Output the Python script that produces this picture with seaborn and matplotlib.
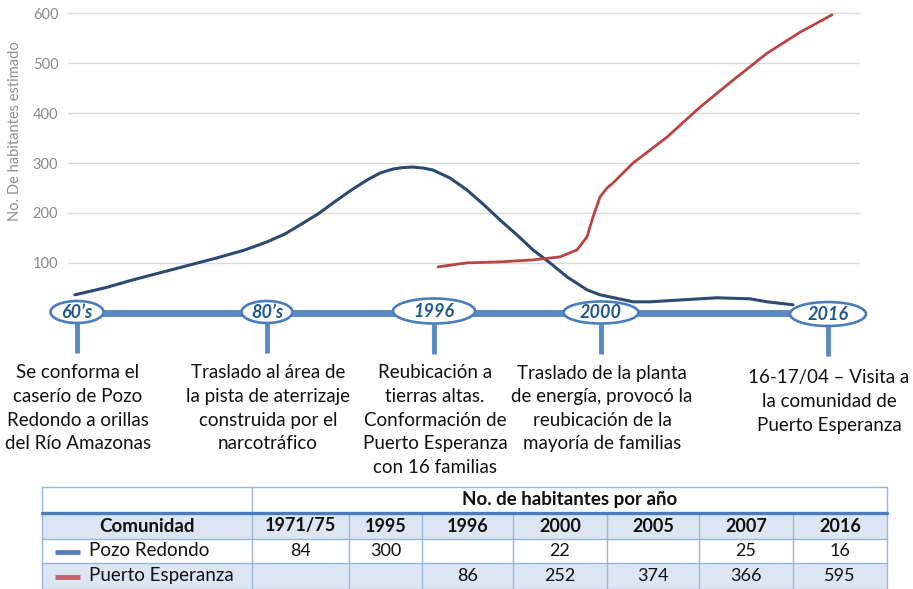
import numpy as np
import pandas as pd
import matplotlib
matplotlib.use("Agg")
import matplotlib.pyplot as plt
from matplotlib.patches import Ellipse, Rectangle
import seaborn as sns

# ─── Data ─────────────────────────────────────────────────────────────────────
y_ticks = [100, 200, 300, 400, 500, 600]

# estimated population curves, x = position along the timeline drawing
pozo_x = [75, 105, 133, 175, 217, 245, 267, 285, 300, 318, 333, 350, 367, 380,
          393, 403, 413, 423, 433, 450, 467, 483, 500, 517, 533, 550, 567, 587,
          600, 633, 650, 683, 717, 750, 767, 793]
pozo_y = [36, 50, 66, 88, 110, 126, 142, 158, 176, 198, 220, 244, 266, 280,
          288, 291, 292, 290, 286, 270, 246, 218, 186, 156, 126, 100, 72, 46,
          36, 22, 22, 26, 30, 28, 22, 16]

puerto_x = [438, 467, 500, 533, 560, 577, 587, 593, 600, 607, 613, 633, 667,
            700, 733, 767, 800, 832]
puerto_y = [92, 100, 102, 106, 112, 126, 152, 192, 232, 250, 260, 300, 352,
            412, 466, 520, 562, 597]

event_labels = ["60\u2019s", "80\u2019s", "1996", "2000", "2016"]
event_x = [77, 267, 434, 601, 828]
event_texts = [
    ["Se conforma el", "caserío de Pozo", "Redondo a orillas", "del Río Amazonas"],
    ["Traslado al área de", "la pista de aterrizaje", "construida por el", "narcotráfico"],
    ["Reubicación a", "tierras altas.", "Conformación de", "Puerto Esperanza", "con 16 familias"],
    ["Traslado de la planta", "de energía, provocó la", "reubicación de la", "mayoría de familias"],
    ["16-17/04 \u2013 Visita a", "la comunidad de", "Puerto Esperanza"],
]

table_title = "No. de habitantes por año"
table_years = ["1971/75", "1995", "1996", "2000", "2005", "2007", "2016"]
communities = ["Pozo Redondo", "Puerto Esperanza"]
pozo_vals = ["84", "300", "", "22", "", "25", "16"]
puerto_vals = ["", "", "86", "252", "374", "366", "595"]

# ─── Style ────────────────────────────────────────────────────────────────────
sns.set_theme(style="white")
plt.rcParams["font.family"] = ["Lato", "DejaVu Sans"]

navy = "#2c4a72"
red = "#b84444"
tl_blue = "#5b89c4"
edge_blue = "#4a7dbb"
label_blue = "#1f5a8a"
cell_blue = "#dce6f2"
line_blue = "#9ab6da"

W, H = 913, 589
fig = plt.figure(figsize=(W / 100, H / 100), dpi=100)

# ─── Chart ────────────────────────────────────────────────────────────────────
ax = fig.add_axes([68 / W, 1 - 330 / H, (860 - 68) / W, 330 / H])
sns.lineplot(x=pozo_x, y=pozo_y, ax=ax, color=navy, linewidth=2.2, sort=False)
sns.lineplot(x=puerto_x, y=puerto_y, ax=ax, color=red, linewidth=2.0, sort=False)
ax.set_xlim(68, 860)
ax.set_ylim(-34.5, 626.7)
ax.set_yticks(y_ticks)
ax.set_xticks([])
ax.grid(axis="y", color="#dadada", linewidth=1)
ax.set_axisbelow(True)
for s in ax.spines.values():
    s.set_visible(False)
ax.tick_params(axis="y", length=0, pad=7, labelcolor="#8a8a8a", labelsize=10.5)
ax.set_ylabel("No. De habitantes estimado", color="#8f8f8f", fontsize=10.5)
ax.yaxis.set_label_coords(-46 / 792, 1 - 131 / 330)
ax.patch.set_alpha(0)

# ─── Timeline + table overlay ─────────────────────────────────────────────────
ov = fig.add_axes([0, 0, 1, 1])
ov.set_xlim(0, W)
ov.set_ylim(H, 0)
ov.axis("off")
ov.patch.set_alpha(0)

ov.plot([event_x[0], event_x[-1]], [313, 313], color=tl_blue, linewidth=5,
        solid_capstyle="butt", zorder=2)
ell_w = [53, 51, 82, 75, 76]
ell_h = [22, 22, 25, 22, 24]
ell_y = [312, 312, 311, 312.5, 314]
for x, lab, w, h, yc, lines in zip(event_x, event_labels, ell_w, ell_h, ell_y, event_texts):
    ov.plot([x, x], [yc + h / 2, yc + h / 2 + 30], color=tl_blue, linewidth=3.5,
            solid_capstyle="butt", zorder=2)
    ov.add_patch(Ellipse((x, yc), w, h, facecolor="white", edgecolor=edge_blue,
                         linewidth=1.9, zorder=3))
    ov.text(x, yc + 0.5, lab, ha="center", va="center", fontsize=13,
            fontstyle="italic", fontweight="bold", color=label_blue, zorder=4)
    y0 = 373 if lab != "2016" else 378
    for i, line in enumerate(lines):
        ov.text(x + 1, y0 + i * 23.6, line, ha="center", va="center",
                fontsize=13.5, color="#111111")

# table
col_edges = [42, 252, 349, 422, 513, 607, 699, 793, 887]
row_edges = [487, 513, 539, 563, 589]
left, right = col_edges[0], col_edges[-1]
for r in (1, 3):
    ov.add_patch(Rectangle((left, row_edges[r]), right - left,
                           row_edges[r + 1] - row_edges[r],
                           facecolor=cell_blue, edgecolor="none", zorder=1))
for yy in row_edges:
    ov.plot([left, right], [yy, yy], color=line_blue, linewidth=1, zorder=2)
ov.plot([left, right], [513, 513], color=edge_blue, linewidth=2.4, zorder=3)
for i, xx in enumerate(col_edges):
    top = row_edges[0] if i in (0, 1, len(col_edges) - 1) else row_edges[1]
    ov.plot([xx, xx], [top, row_edges[-1]], color=line_blue, linewidth=1, zorder=2)

def cy(r):
    return (row_edges[r] + row_edges[r + 1]) / 2

ov.text((col_edges[1] + right) / 2, cy(0), table_title, ha="center", va="center",
        fontsize=13.5, fontweight="bold", color="#111111")
ov.text((col_edges[0] + col_edges[1]) / 2, cy(1), "Comunidad", ha="center",
        va="center", fontsize=13.5, fontweight="bold", color="#111111")
for j, yr in enumerate(table_years):
    ov.text((col_edges[j + 1] + col_edges[j + 2]) / 2, cy(1), yr, ha="center",
            va="center", fontsize=13, fontweight="bold", color="#111111")
for r, (name, vals, c) in enumerate(zip(communities, [pozo_vals, puerto_vals],
                                         ["#5b7fb8", "#c0606a"])):
    ov.plot([55, 80], [cy(r + 2) + 1, cy(r + 2) + 1], color=c, linewidth=3.5,
            solid_capstyle="butt", zorder=3)
    ov.text(89, cy(r + 2), name, ha="left", va="center", fontsize=13.5,
            color="#111111")
    for j, v in enumerate(vals):
        ov.text((col_edges[j + 1] + col_edges[j + 2]) / 2, cy(r + 2), v,
                ha="center", va="center", fontsize=13, color="#111111")

fig.savefig("out.png", dpi=100)
